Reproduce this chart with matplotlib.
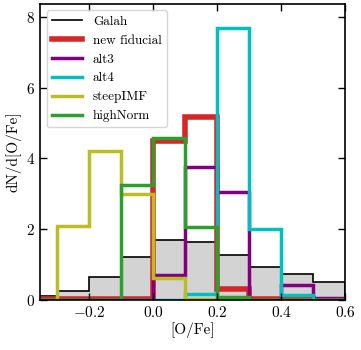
import numpy as np
import matplotlib
matplotlib.use('Agg')
import matplotlib.pyplot as plt

plt.rcParams['font.family'] = 'serif'
plt.rcParams['font.serif'] = ['cmr10']
plt.rcParams['mathtext.fontset'] = 'cm'
plt.rcParams['axes.formatter.use_mathtext'] = True
plt.rcParams['axes.unicode_minus'] = True

# bin edges and histogram heights
edges = np.round(np.arange(-0.4, 0.61, 0.1), 2)
galah = [0.11, 0.25, 0.65, 1.22, 1.70, 1.65, 1.27, 0.94, 0.73, 0.52]
fiducial = [0.04, 0.04, 0.04, 0.04, 4.48, 5.17, 0.30, 0.04, 0.03, 0.0]
alt3 = [0.0, 0.0, 0.0, 0.0, 0.71, 3.77, 3.05, 0.0, 0.43, 0.05]
alt4 = [0.0, 0.0, 0.0, 0.0, 0.0, 0.16, 7.68, 2.0, 0.14, 0.0]
steepimf = [0.0, 2.09, 4.2, 2.99, 0.63, 0.03, 0.0, 0.0, 0.0, 0.0]
highnorm = [0.0, 0.0, 0.0, 3.25, 4.59, 2.07, 0.07, 0.0, 0.0, 0.0]

fig = plt.figure(figsize=(3.61, 3.5), dpi=100)
ax = fig.add_axes([0.111, 0.143, 0.845, 0.846])

ax.stairs(galah, edges, fill=True, color='lightgray')
ax.stairs(galah, edges, color='k', lw=1.2, label='Galah')
ax.stairs(fiducial, edges, color='C3', lw=4, label='new fiducial')
ax.stairs(alt3, edges, color='purple', lw=2.5, label='alt3')
ax.stairs(alt4, edges, color='c', lw=2.5, label='alt4')
ax.stairs(steepimf, edges, color='C8', lw=2.5, label='steepIMF')
ax.stairs(highnorm, edges, color='C2', lw=2.5, label='highNorm')

ax.set_xlim(-0.353, 0.6)
ax.set_ylim(0, 8.37)
ax.set_xticks([-0.2, 0.0, 0.2, 0.4, 0.6])
ax.set_yticks([0, 2, 4, 6, 8])
ax.tick_params(direction='in', top=True, right=True, length=5, width=1, labelsize=11)
for s in ax.spines.values():
    s.set_linewidth(1.2)
ax.set_xlabel('[O/Fe]', fontsize=11, labelpad=2)
ax.set_ylabel('dN/d[O/Fe]', fontsize=11, labelpad=3)
ax.legend(loc='upper left', fontsize=9.5, handlelength=2.3, borderaxespad=0.5)

fig.savefig('out.png', dpi=100)
